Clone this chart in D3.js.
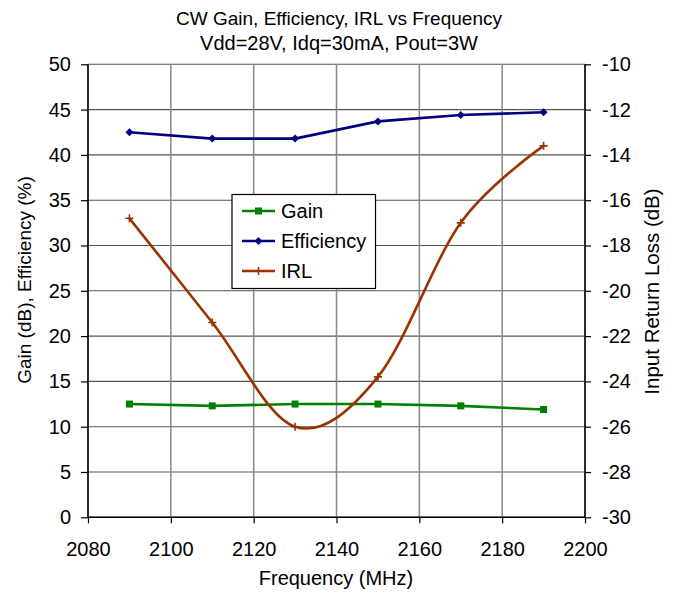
<!DOCTYPE html>
<html>
<head>
<meta charset="utf-8">
<script src="https://cdn.jsdelivr.net/npm/d3@7"></script>
<style>
html,body{margin:0;padding:0;background:#fff;}
text{font-family:"Liberation Sans",Arial,sans-serif;fill:#000;}
</style>
</head>
<body>
<svg id="chart" width="678" height="596"></svg>
<script>
const freq = [2090, 2110, 2130, 2150, 2170, 2190];
const gain = [12.5, 12.3, 12.5, 12.5, 12.3, 11.9];
const efficiency = [42.5, 41.8, 41.8, 43.7, 44.4, 44.7];
const irl = [-16.8, -21.4, -26.0, -23.8, -17.0, -13.6];
const xTicks = [2080, 2100, 2120, 2140, 2160, 2180, 2200];
const leftTicks = [0, 5, 10, 15, 20, 25, 30, 35, 40, 45, 50];
const rightTicks = [-30, -28, -26, -24, -22, -20, -18, -16, -14, -12, -10];
const titleLines = ["CW Gain, Efficiency, IRL vs Frequency", "Vdd=28V, Idq=30mA, Pout=3W"];
const seriesNames = ["Gain", "Efficiency", "IRL"];
const colors = ["#008000", "#000080", "#993300"];

const svg = d3.select("#chart");
const L = 88, R = 585, T = 64.3, B = 517.3;
const x = d3.scaleLinear().domain([2080, 2200]).range([L, R]);
const yL = d3.scaleLinear().domain([0, 50]).range([B, T]);
const yR = d3.scaleLinear().domain([-30, -10]).range([B, T]);

// gridlines
svg.append("g").selectAll("line").data(leftTicks).join("line")
  .attr("x1", L).attr("x2", R).attr("y1", d => yL(d)).attr("y2", d => yL(d))
  .attr("stroke", "#555").attr("stroke-width", 1.1);
svg.append("g").selectAll("line").data(xTicks).join("line")
  .attr("x1", d => x(d)).attr("x2", d => x(d)).attr("y1", T).attr("y2", B)
  .attr("stroke", "#888").attr("stroke-width", 1.5);

// axes
const fs = 20;
const gx = svg.append("g").attr("transform", `translate(0,${B})`)
  .call(d3.axisBottom(x).tickValues(xTicks).tickSize(6).tickPadding(19).tickFormat(d3.format("d")));
const gl = svg.append("g").attr("transform", `translate(${L},0)`)
  .call(d3.axisLeft(yL).tickValues(leftTicks).tickSize(7).tickPadding(10));
const gr = svg.append("g").attr("transform", `translate(${R},0)`)
  .call(d3.axisRight(yR).tickValues(rightTicks).tickSize(6).tickPadding(11).tickFormat(d => d.toString()));
[gx, gl, gr].forEach(g => {
  g.selectAll("path").attr("stroke", "#000").attr("stroke-width", 1.5);
  g.selectAll("line").attr("stroke", "#000").attr("stroke-width", 1.2);
  g.selectAll("text").style("font-family", '"Liberation Sans",Arial,sans-serif').style("font-size", fs + "px").attr("fill", "#000");
});
gx.select("path").attr("d", `M${L},0H${R}`);
gl.select("path").attr("d", `M0,${T}V${B}`);
gr.select("path").attr("d", `M0,${T}V${B}`);

// lines
const pts = vals => freq.map((f, i) => [f, vals[i]]);
svg.append("path").datum(pts(gain))
  .attr("d", d3.line().x(d => x(d[0])).y(d => yL(d[1])))
  .attr("fill", "none").attr("stroke", colors[0]).attr("stroke-width", 2.6);
svg.append("path").datum(pts(efficiency))
  .attr("d", d3.line().x(d => x(d[0])).y(d => yL(d[1])))
  .attr("fill", "none").attr("stroke", colors[1]).attr("stroke-width", 2.6);
svg.append("path").datum(pts(irl))
  .attr("d", d3.line().x(d => x(d[0])).y(d => yR(d[1])).curve(d3.curveCardinal.tension(0)))
  .attr("fill", "none").attr("stroke", colors[2]).attr("stroke-width", 2.6);

// markers
function square(g, cx, cy, c) {
  g.append("rect").attr("x", cx - 3.5).attr("y", cy - 3.5).attr("width", 7).attr("height", 7).attr("fill", c);
}
function diamond(g, cx, cy, c) {
  g.append("path").attr("d", `M${cx},${cy-4}L${cx+4},${cy}L${cx},${cy+4}L${cx-4},${cy}Z`).attr("fill", c);
}
function plus(g, cx, cy, c) {
  g.append("path").attr("d", `M${cx-4},${cy}H${cx+4}M${cx},${cy-4}V${cy+4}`).attr("stroke", c).attr("stroke-width", 1.6);
}
const mg = svg.append("g");
freq.forEach((f, i) => {
  square(mg, x(f), yL(gain[i]), colors[0]);
  diamond(mg, x(f), yL(efficiency[i]), colors[1]);
  plus(mg, x(f), yR(irl[i]), colors[2]);
});

// legend
const lg = svg.append("g");
lg.append("rect").attr("x", 232).attr("y", 194.5).attr("width", 143.5).attr("height", 94)
  .attr("fill", "#fff").attr("stroke", "#000").attr("stroke-width", 1.2);
const markerFns = [square, diamond, plus];
seriesNames.forEach((n, i) => {
  const cy = 211 + i * 30;
  lg.append("line").attr("x1", 242).attr("x2", 275).attr("y1", cy).attr("y2", cy)
    .attr("stroke", colors[i]).attr("stroke-width", 2.6);
  markerFns[i](lg, 258.5, cy, colors[i]);
  lg.append("text").attr("x", 281).attr("y", cy).attr("dy", "0.35em")
    .style("font-size", "20px").text(n);
});

// titles
const titleSizes = [19, 20];
titleLines.forEach((t, i) => {
  svg.append("text").attr("x", 339).attr("y", 25 + i * 25).attr("text-anchor", "middle")
    .style("font-size", titleSizes[i] + "px").text(t);
});
svg.append("text").attr("x", 336).attr("y", 585).attr("text-anchor", "middle")
  .style("font-size", "20px").text("Frequency (MHz)");
svg.append("text").attr("transform", "translate(31,280) rotate(-90)").attr("text-anchor", "middle")
  .style("font-size", "19px").text("Gain (dB), Efficiency (%)");
svg.append("text").attr("transform", "translate(659,291.5) rotate(-90)").attr("text-anchor", "middle")
  .style("font-size", "20.5px").text("Input Return Loss (dB)");
</script>
</body>
</html>
